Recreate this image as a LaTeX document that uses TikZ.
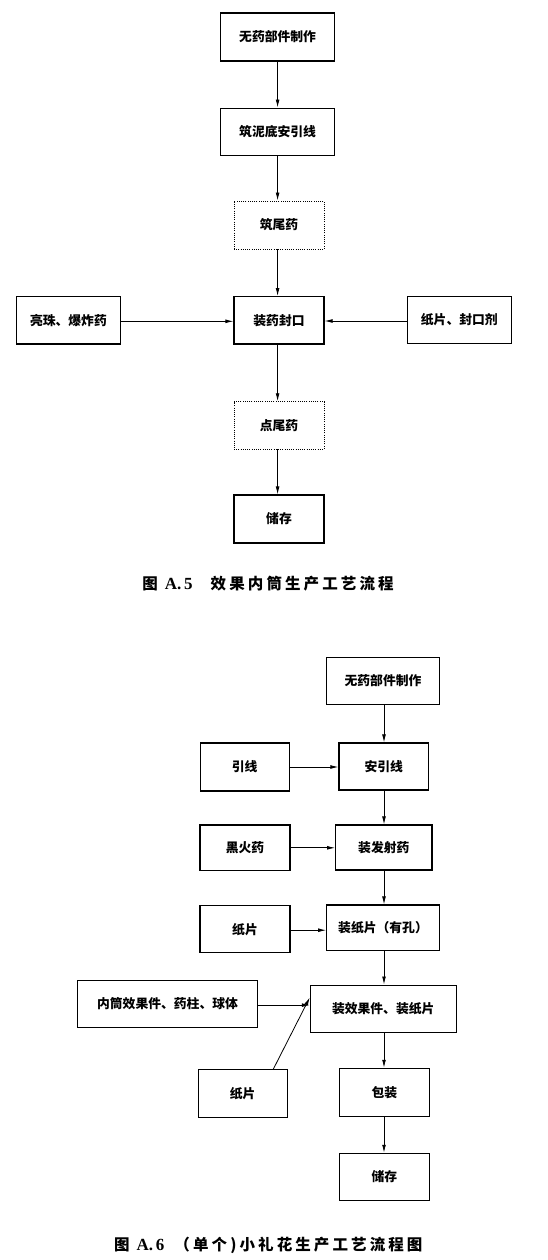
\documentclass[tikz,border=0pt]{standalone}
\usepackage{fontspec}
\setmainfont{Liberation Serif}
\newfontfamily\cjk{Noto Sans CJK SC}
\newfontfamily\capcjk[LetterSpace=20]{Noto Sans CJK SC}
\usetikzlibrary{arrows.meta}
\begin{document}
\begin{tikzpicture}[x=1pt,y=-1pt,
  box/.style={draw,line width=1.1pt,inner sep=0pt,font=\cjk\bfseries\fontsize{12.8}{14}\selectfont,align=center},
  dotbox/.style={box,line width=0.8pt,dash pattern=on 1pt off 1.2pt},
  arr/.style={line width=0.8pt,-{Latex[length=8pt,width=3.8pt]}},
  captext/.style={inner sep=0pt,font=\bfseries\fontsize{15.5}{18}\selectfont}
]
\useasboundingbox (0,0) rectangle (547,1260);
\fill[white] (0,0) rectangle (547,1260);
% ---- Figure A.5
\node[box,minimum width=114.4pt,minimum height=48pt] (a1) at (277.6,37) {无药部件制作};
\node[box,minimum width=114.4pt,minimum height=47.7pt] (a2) at (277.6,132) {筑泥底安引线};
\node[dotbox,minimum width=90pt,minimum height=48pt] (a3) at (279,225) {筑尾药};
\node[box,minimum width=90pt,minimum height=47.3pt] (a4) at (279,320.3) {装药封口};
\node[box,minimum width=103.3pt,minimum height=47.3pt] (aL) at (68.4,320.3) {亮珠、爆炸药};
\node[box,minimum width=104pt,minimum height=46.3pt] (aR) at (459.3,320) {纸片、封口剂};
\node[dotbox,minimum width=90pt,minimum height=47.3pt] (a5) at (279,425.3) {点尾药};
\node[box,minimum width=90pt,minimum height=48pt] (a6) at (279,519) {储存};
\draw[arr] (a1.south) -- (a2.north);
\draw[arr] (a2.south) -- (a2.south |- a3.north);
\draw[arr] (a2.south |- a3.south) -- (a2.south |- a4.north);
\draw[arr] (a2.south |- a4.south) -- (a2.south |- a5.north);
\draw[arr] (a2.south |- a5.south) -- (a2.south |- a6.north);
\draw[arr] ([yshift=-1pt]aL.east) -- ([yshift=-1pt]aL.east -| a4.west);
\draw[arr] ([yshift=-1pt]aR.west) -- ([yshift=-1pt]aR.west -| a4.east);
\node[captext] (capA) at (268,583.3) {{\capcjk 图}\hspace{7pt}{\fontsize{17}{18}\selectfont A.\,5}\hspace{18pt}{\capcjk 效果内筒生产工艺流程}};
% ---- Figure A.6
\node[box,minimum width=112.6pt,minimum height=46.6pt] (b1) at (383,681) {无药部件制作};
\node[box,minimum width=89.3pt,minimum height=48pt] (c1) at (244.7,767) {引线};
\node[box,minimum width=89.7pt,minimum height=47pt] (b2) at (383.8,766.5) {安引线};
\node[box,minimum width=90pt,minimum height=45.7pt] (c2) at (245,847.8) {黑火药};
\node[box,minimum width=96.3pt,minimum height=45pt] (b3) at (383.8,847.5) {装发射药};
\node[box,minimum width=90pt,minimum height=47pt] (c3) at (245,929.2) {纸片};
\node[box,minimum width=112.6pt,minimum height=45.6pt] (b4) at (383,927.8) {装纸片（有孔）};
\node[box,minimum width=179.6pt,minimum height=47.3pt] (c4) at (167.5,1003.7) {内筒效果件、药柱、球体};
\node[box,minimum width=145.7pt,minimum height=47.3pt] (b5) at (383.2,1008.7) {装效果件、装纸片};
\node[box,minimum width=89.3pt,minimum height=47.6pt] (c5) at (242.7,1093.5) {纸片};
\node[box,minimum width=90pt,minimum height=48.4pt] (b6) at (384.3,1092.5) {包装};
\node[box,minimum width=90pt,minimum height=47.4pt] (b7) at (384.3,1177) {储存};
\coordinate (bx) at (384,0);
\draw[arr] (bx |- b1.south) -- (bx |- b2.north);
\draw[arr] (bx |- b2.south) -- (bx |- b3.north);
\draw[arr] (bx |- b3.south) -- (bx |- b4.north);
\draw[arr] (bx |- b4.south) -- (bx |- b5.north);
\draw[arr] (bx |- b5.south) -- (bx |- b6.north);
\draw[arr] (bx |- b6.south) -- (bx |- b7.north);
\draw[arr] (c1.east) -- (c1.east -| b2.west);
\draw[arr] (c2.east) -- (c2.east -| b3.west);
\draw[arr] ([yshift=-1pt]c3.east) -- ([yshift=-1pt]c3.east -| b4.west);
\draw[arr] ([yshift=-1.4pt]c4.east) -- ([yshift=-1.4pt]c4.east -| b5.west);
\draw[arr] ([xshift=30.6pt]c5.north) -- ([yshift=11.3pt]b5.west);
\node[captext] (capB) at (268.3,1245) {{\capcjk 图}\hspace{7pt}{\fontsize{17}{18}\selectfont A.\,6}\hspace{10pt}{\capcjk （单个)小礼花生产工艺流程图}};
\end{tikzpicture}
\end{document}
